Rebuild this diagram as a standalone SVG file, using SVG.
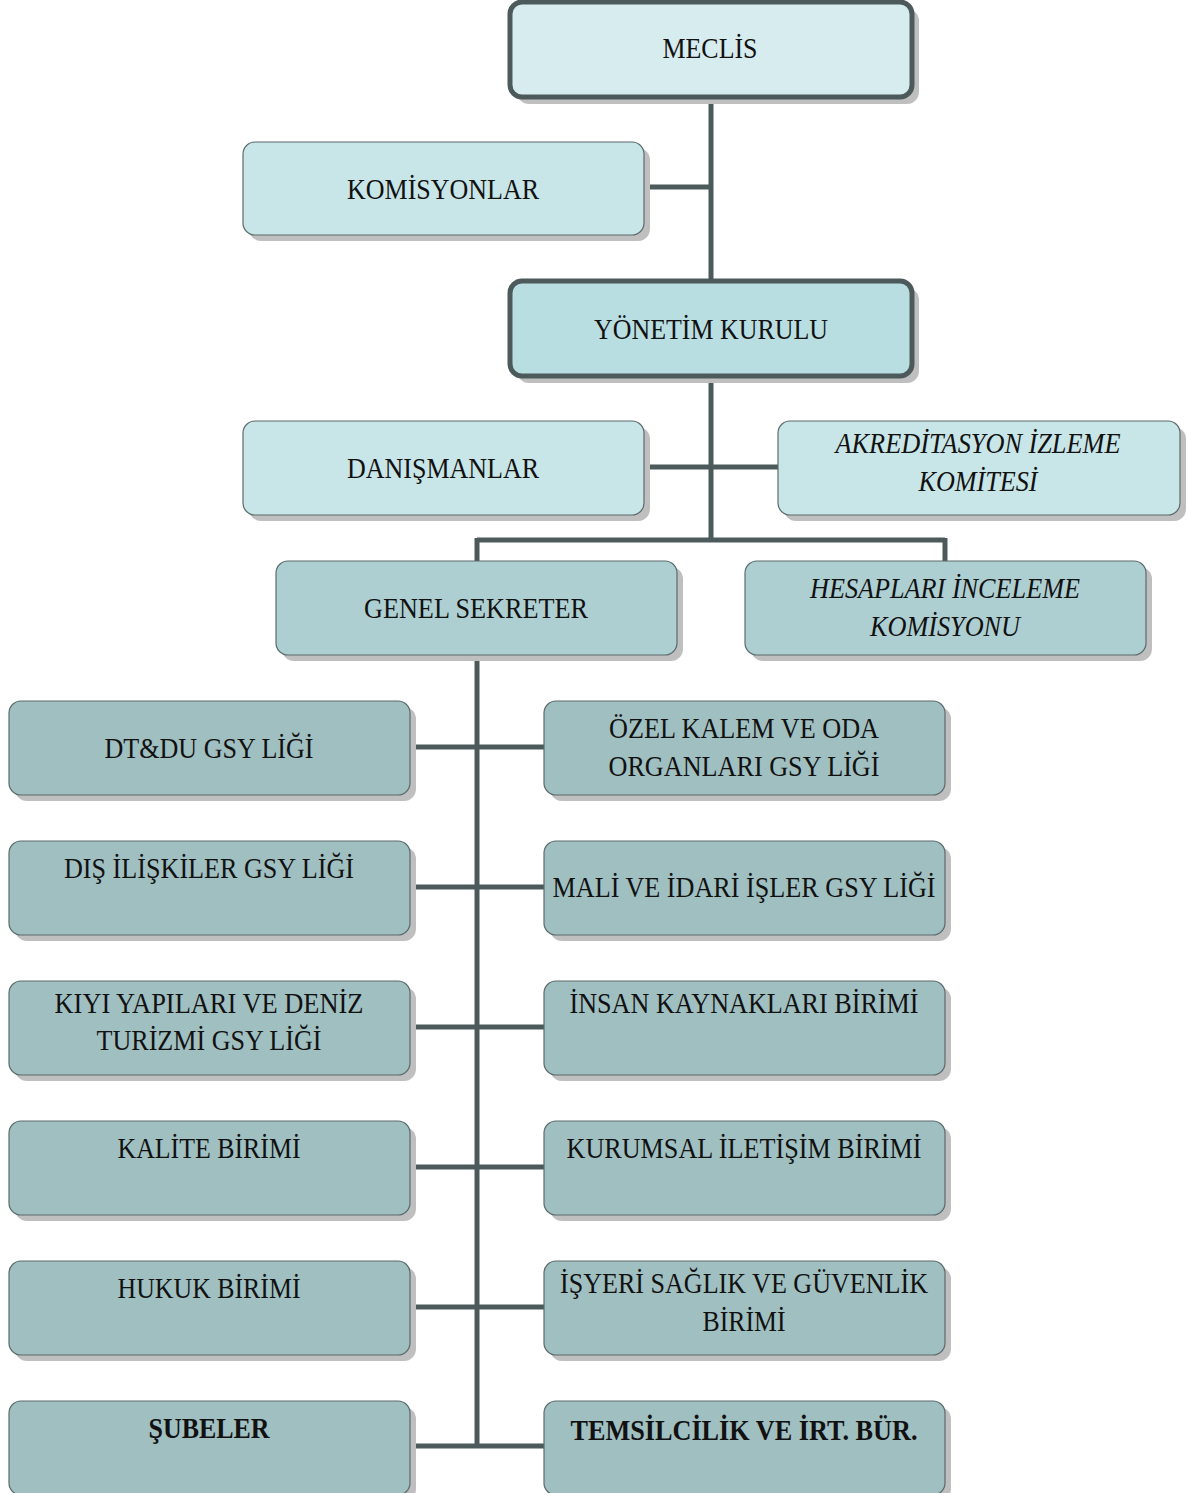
<svg xmlns="http://www.w3.org/2000/svg" width="1187" height="1493" viewBox="0 0 1187 1493">
<style>
text{font-family:"Liberation Serif","Times New Roman",serif;font-size:30px;fill:#111;text-anchor:middle}
.it{font-style:italic}
.b{font-weight:bold}
.sh{fill:#bfbfbf}
.thin{stroke:#5d6b6c;stroke-width:1.2}
.thick{stroke:#4d5a5b;stroke-width:5}
.c1{fill:#d7ecef}.c2{fill:#c8e5e8}.c3{fill:#b9dee2}.c4{fill:#aecfd2}.c5{fill:#a0bfc1}
.ln{stroke:#4d5a5b;stroke-width:5;fill:none}
</style>
<rect width="1187" height="1493" fill="#fff"/>
<g id="connectors">
<path class="ln" d="M711 97V281M644 187H711M711 376V540M644 467H778M477 540H945M477 538V561M945 538V561M477 655V1446"/>
<path class="ln" d="M410 747H544M410 887H544M410 1027H544M410 1167H544M410 1307H544M410 1446H544"/>
</g>
<g id="meclis"><rect class="sh" x="517" y="9" width="402" height="95" rx="12"/><rect class="c1 thick" x="510" y="2" width="402" height="95" rx="12"/><text x="710" y="58" textLength="95" lengthAdjust="spacingAndGlyphs">MECLİS</text></g>
<g id="komisyonlar"><rect class="sh" x="249" y="148" width="401" height="93" rx="12"/><rect class="c2 thin" x="243" y="142" width="401" height="93" rx="12"/><text x="443" y="199" textLength="192" lengthAdjust="spacingAndGlyphs">KOMİSYONLAR</text></g>
<g id="yonetim"><rect class="sh" x="517" y="288" width="402" height="95" rx="12"/><rect class="c3 thick" x="510" y="281" width="402" height="95" rx="12"/><text x="711" y="339" textLength="234" lengthAdjust="spacingAndGlyphs">YÖNETİM KURULU</text></g>
<g id="danismanlar"><rect class="sh" x="249" y="427" width="401" height="94" rx="12"/><rect class="c2 thin" x="243" y="421" width="401" height="94" rx="12"/><text x="443" y="478" textLength="192" lengthAdjust="spacingAndGlyphs">DANIŞMANLAR</text></g>
<g id="akreditasyon"><rect class="sh" x="784" y="427" width="402" height="94" rx="12"/><rect class="c2 thin" x="778" y="421" width="402" height="94" rx="12"/><text class="it" x="978" y="453" textLength="285" lengthAdjust="spacingAndGlyphs">AKREDİTASYON İZLEME</text><text class="it" x="978" y="491" textLength="119" lengthAdjust="spacingAndGlyphs">KOMİTESİ</text></g>
<g id="genel"><rect class="sh" x="282" y="567" width="401" height="94" rx="12"/><rect class="c4 thin" x="276" y="561" width="401" height="94" rx="12"/><text x="476" y="618" textLength="224" lengthAdjust="spacingAndGlyphs">GENEL SEKRETER</text></g>
<g id="hesaplari"><rect class="sh" x="751" y="567" width="401" height="94" rx="12"/><rect class="c4 thin" x="745" y="561" width="401" height="94" rx="12"/><text class="it" x="945" y="598" textLength="270" lengthAdjust="spacingAndGlyphs">HESAPLARI İNCELEME</text><text class="it" x="945" y="636" textLength="150" lengthAdjust="spacingAndGlyphs">KOMİSYONU</text></g>
<g id="dtdu"><rect class="sh" x="15" y="707" width="401" height="94" rx="12"/><rect class="c5 thin" x="9" y="701" width="401" height="94" rx="12"/><text x="209" y="758" textLength="209" lengthAdjust="spacingAndGlyphs">DT&amp;DU GSY LİĞİ</text></g>
<g id="ozelkalem"><rect class="sh" x="550" y="707" width="401" height="94" rx="12"/><rect class="c5 thin" x="544" y="701" width="401" height="94" rx="12"/><text x="744" y="738" textLength="270" lengthAdjust="spacingAndGlyphs">ÖZEL KALEM VE ODA</text><text x="744" y="776" textLength="271" lengthAdjust="spacingAndGlyphs">ORGANLARI GSY LİĞİ</text></g>
<g id="disiliskiler"><rect class="sh" x="15" y="847" width="401" height="94" rx="12"/><rect class="c5 thin" x="9" y="841" width="401" height="94" rx="12"/><text x="209" y="878" textLength="290" lengthAdjust="spacingAndGlyphs">DIŞ İLİŞKİLER GSY LİĞİ</text></g>
<g id="mali"><rect class="sh" x="550" y="847" width="401" height="94" rx="12"/><rect class="c5 thin" x="544" y="841" width="401" height="94" rx="12"/><text x="744" y="897" textLength="383" lengthAdjust="spacingAndGlyphs">MALİ VE İDARİ İŞLER GSY LİĞİ</text></g>
<g id="kiyi"><rect class="sh" x="15" y="987" width="401" height="94" rx="12"/><rect class="c5 thin" x="9" y="981" width="401" height="94" rx="12"/><text x="209" y="1013" textLength="309" lengthAdjust="spacingAndGlyphs">KIYI YAPILARI VE DENİZ</text><text x="209" y="1050" textLength="225" lengthAdjust="spacingAndGlyphs">TURİZMİ GSY LİĞİ</text></g>
<g id="insan"><rect class="sh" x="550" y="987" width="401" height="94" rx="12"/><rect class="c5 thin" x="544" y="981" width="401" height="94" rx="12"/><text x="744" y="1013" textLength="349" lengthAdjust="spacingAndGlyphs">İNSAN KAYNAKLARI BİRİMİ</text></g>
<g id="kalite"><rect class="sh" x="15" y="1127" width="401" height="94" rx="12"/><rect class="c5 thin" x="9" y="1121" width="401" height="94" rx="12"/><text x="209" y="1158" textLength="183" lengthAdjust="spacingAndGlyphs">KALİTE BİRİMİ</text></g>
<g id="kurumsal"><rect class="sh" x="550" y="1127" width="401" height="94" rx="12"/><rect class="c5 thin" x="544" y="1121" width="401" height="94" rx="12"/><text x="744" y="1158" textLength="355" lengthAdjust="spacingAndGlyphs">KURUMSAL İLETİŞİM BİRİMİ</text></g>
<g id="hukuk"><rect class="sh" x="15" y="1267" width="401" height="94" rx="12"/><rect class="c5 thin" x="9" y="1261" width="401" height="94" rx="12"/><text x="209" y="1298" textLength="183" lengthAdjust="spacingAndGlyphs">HUKUK BİRİMİ</text></g>
<g id="isyeri"><rect class="sh" x="550" y="1267" width="401" height="94" rx="12"/><rect class="c5 thin" x="544" y="1261" width="401" height="94" rx="12"/><text x="744" y="1293" textLength="368" lengthAdjust="spacingAndGlyphs">İŞYERİ SAĞLIK VE GÜVENLİK</text><text x="744" y="1331" textLength="83" lengthAdjust="spacingAndGlyphs">BİRİMİ</text></g>
<g id="subeler"><rect class="sh" x="15" y="1407" width="401" height="94" rx="12"/><rect class="c5 thin" x="9" y="1401" width="401" height="94" rx="12"/><text class="b" x="209" y="1438" textLength="121" lengthAdjust="spacingAndGlyphs">ŞUBELER</text></g>
<g id="temsilcilik"><rect class="sh" x="550" y="1407" width="401" height="94" rx="12"/><rect class="c5 thin" x="544" y="1401" width="401" height="94" rx="12"/><text class="b" x="744" y="1440" textLength="347" lengthAdjust="spacingAndGlyphs">TEMSİLCİLİK VE İRT. BÜR.</text></g>
</svg>
